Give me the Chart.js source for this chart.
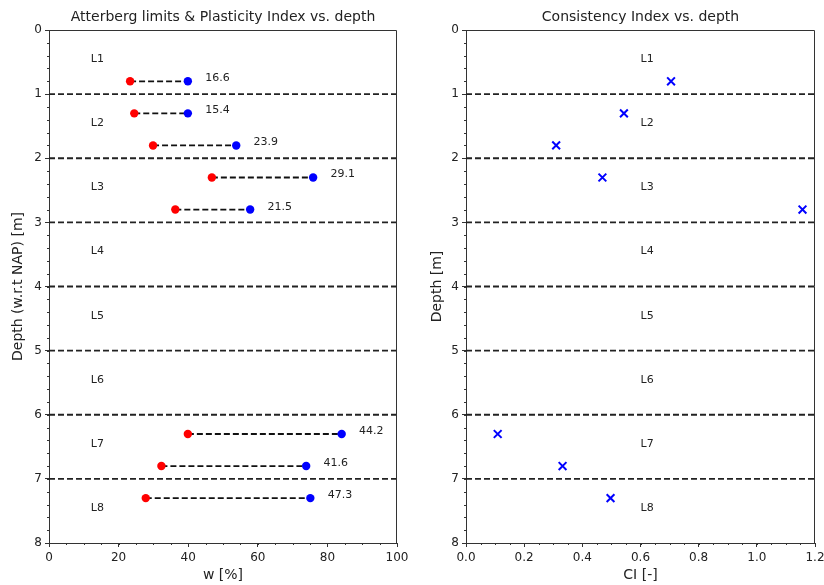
<!DOCTYPE html>
<html>
<head>
<meta charset="utf-8">
<script src="https://cdn.jsdelivr.net/npm/chart.js@4.4.1/dist/chart.umd.min.js"></script>
<style>
  body { margin: 0; background: #fff; }
  #wrap { position: relative; width: 824px; height: 585px; }
  .box { position: absolute; top: 0; width: 412px; height: 585px; }
</style>
</head>
<body>
<div id="wrap">
  <div class="box" style="left:0"><canvas id="atterberg"></canvas></div>
  <div class="box" style="left:412px"><canvas id="consistency"></canvas></div>
</div>
<script>
// sample depths [m] and measured values
const depths = [0.8, 1.3, 1.8, 2.3, 2.8, 6.3, 6.8, 7.3];
const plasticLimit = [23.3, 24.5, 29.9, 46.8, 36.3, 39.9, 32.3, 27.8];
const liquidLimit = [39.9, 39.9, 53.8, 75.9, 57.8, 84.1, 73.9, 75.1];
const plasticityIndex = ['16.6', '15.4', '23.9', '29.1', '21.5', '44.2', '41.6', '47.3'];
const consistencyIndex = [0.705, 0.543, 0.310, 0.469, 1.157, 0.109, 0.332, 0.497];

// layers
const layerBounds = [1, 2, 3, 4, 5, 6, 7];
const layerNames = ['L1', 'L2', 'L3', 'L4', 'L5', 'L6', 'L7', 'L8'];
const layerMids = [0.5, 1.5, 2.5, 3.5, 4.5, 5.5, 6.5, 7.5];

const FONT = '"DejaVu Sans", sans-serif';
const axisColor = '#333';
const textColor = '#222';

// dashed horizontal lines at the layer boundaries
function boundaryLines(xmin, xmax) {
  return layerBounds.map(d => ({
    type: 'line',
    data: [{x: xmin, y: d}, {x: xmax, y: d}],
    borderColor: '#222',
    borderWidth: 1.8,
    borderDash: [6, 3],
    pointRadius: 0,
    fill: false
  }));
}

// draws frame top/right, minor ticks and text labels
const extras = {
  id: 'extras',
  afterDraw(chart, args, opts) {
    const {ctx, chartArea: a, scales: {x, y}} = chart;
    ctx.save();
    ctx.strokeStyle = axisColor;
    ctx.lineWidth = 1;
    ctx.beginPath();
    ctx.moveTo(a.left, a.top + 0.5);
    ctx.lineTo(a.right - 0.5, a.top + 0.5);
    ctx.lineTo(a.right - 0.5, a.bottom);
    ctx.stroke();
    // minor ticks
    ctx.beginPath();
    let n = Math.round((x.max - x.min) / opts.xMinor);
    for (let i = 0; i <= n; i++) {
      let px = Math.round(x.getPixelForValue(x.min + i * opts.xMinor)) + 0.5;
      ctx.moveTo(px, a.bottom);
      ctx.lineTo(px, a.bottom + 2);
    }
    n = Math.round((y.max - y.min) / opts.yMinor);
    for (let i = 0; i <= n; i++) {
      let py = Math.round(y.getPixelForValue(y.min + i * opts.yMinor)) + 0.5;
      ctx.moveTo(a.left, py);
      ctx.lineTo(a.left - 2, py);
    }
    ctx.stroke();
    // labels
    ctx.font = '11px ' + FONT;
    ctx.fillStyle = textColor;
    ctx.textBaseline = 'alphabetic';
    ctx.textAlign = 'left';
    opts.texts.forEach(t => {
      ctx.fillText(t.text, x.getPixelForValue(t.x), y.getPixelForValue(t.y));
    });
    ctx.restore();
  }
};

function baseOptions(title, xTitle, yTitle, xmin, xmax, xstep, yWidth, padRight, yTitlePad, xFormat) {
  return {
    responsive: true,
    maintainAspectRatio: false,
    animation: false,
    layout: {padding: {left: 0, right: padRight, top: 0, bottom: 0}},
    plugins: {
      legend: {display: false},
      tooltip: {enabled: false},
      title: {
        display: true,
        text: title,
        fullSize: false,
        color: textColor,
        font: {family: FONT, size: 14, weight: 'normal'},
        padding: {top: 8.6, bottom: 4.6}
      }
    },
    scales: {
      x: {
        type: 'linear',
        min: xmin,
        max: xmax,
        ticks: {stepSize: xstep, color: textColor, font: {family: FONT, size: 12}, padding: 4,
                maxRotation: 0, autoSkip: false, callback: xFormat},
        grid: {drawOnChartArea: false, drawTicks: true, tickLength: 4, color: axisColor},
        border: {display: true, color: axisColor},
        title: {display: true, text: xTitle, color: textColor, font: {family: FONT, size: 14}, padding: {top: 0, bottom: 1}},
        afterFit(s) { s.height = 42; s.paddingLeft = 0; s.paddingRight = 0; }
      },
      y: {
        type: 'linear',
        reverse: true,
        min: 0,
        max: 8,
        ticks: {stepSize: 1, color: textColor, font: {family: FONT, size: 12}, padding: 3, autoSkip: false},
        grid: {drawOnChartArea: false, drawTicks: true, tickLength: 4, color: axisColor},
        border: {display: true, color: axisColor},
        title: {display: true, text: yTitle, color: textColor, font: {family: FONT, size: 14}, padding: {top: yTitlePad, bottom: 0}},
        afterFit(s) { s.width = yWidth; s.paddingTop = 0; s.paddingBottom = 0; }
      }
    }
  };
}

// left chart: Atterberg limits
const leftData = [];
leftData.push({
  type: 'scatter',
  data: depths.map((d, i) => ({x: liquidLimit[i], y: d})),
  backgroundColor: '#0000ff', borderColor: '#0000ff', pointRadius: 4.2, borderWidth: 0
});
leftData.push({
  type: 'scatter',
  data: depths.map((d, i) => ({x: plasticLimit[i], y: d})),
  backgroundColor: '#ff0000', borderColor: '#ff0000', pointRadius: 4.2, borderWidth: 0
});
depths.forEach((d, i) => {
  leftData.push({
    type: 'line',
    data: [{x: plasticLimit[i], y: d}, {x: liquidLimit[i], y: d}],
    borderColor: '#111', borderWidth: 1.8, borderDash: [6, 3], pointRadius: 0, fill: false
  });
});
boundaryLines(0, 100).forEach(l => leftData.push(l));

const leftTexts = layerNames.map((n, i) => ({text: n, x: 12, y: layerMids[i]}))
  .concat(depths.map((d, i) => ({text: plasticityIndex[i], x: liquidLimit[i] + 5, y: d})));

const leftOpts = baseOptions('Atterberg limits & Plasticity Index vs. depth', 'w [%]', 'Depth (w.r.t NAP) [m]',
  0, 100, 20, 49, 15, 9.6, v => v);
leftOpts.plugins.extras = {xMinor: 5, yMinor: 0.2, texts: leftTexts};

new Chart(document.getElementById('atterberg'), {
  type: 'scatter',
  data: {datasets: leftData},
  options: leftOpts,
  plugins: [extras]
});

// right chart: consistency index
const rightData = [{
  type: 'scatter',
  data: depths.map((d, i) => ({x: consistencyIndex[i], y: d})),
  pointStyle: 'crossRot', pointRadius: 5.5, borderWidth: 2,
  borderColor: '#0000ff', backgroundColor: '#0000ff'
}];
boundaryLines(0, 1.2).forEach(l => rightData.push(l));

const rightTexts = layerNames.map((n, i) => ({text: n, x: 0.6, y: layerMids[i]}));

const rightOpts = baseOptions('Consistency Index vs. depth', 'CI [-]', 'Depth [m]',
  0, 1.2, 0.2, 54, 9, 16.6, v => v.toFixed(1));
rightOpts.plugins.extras = {xMinor: 0.05, yMinor: 0.2, texts: rightTexts};

new Chart(document.getElementById('consistency'), {
  type: 'scatter',
  data: {datasets: rightData},
  options: rightOpts,
  plugins: [extras]
});
</script>
</body>
</html>
